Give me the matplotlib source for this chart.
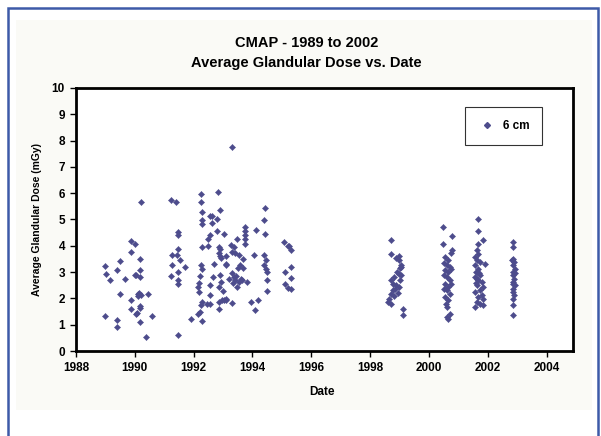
import matplotlib
matplotlib.use('Agg')
import matplotlib.pyplot as plt
from matplotlib.patches import Rectangle
from matplotlib.lines import Line2D

plt.rcParams["font.family"] = "Liberation Sans"
plt.rcParams["font.weight"] = "bold"

# survey sessions: (date, dose) per group
date_8990 = [1989.0, 1989.02, 1989.14, 1989.0, 1989.39, 1989.51, 1989.48, 1989.39, 1989.39, 1989.67,
             1989.88, 1989.99, 1989.88, 1990.18, 1990.18, 1989.99, 1990.05, 1990.18, 1990.1, 1990.2,
             1990.15, 1990.12, 1990.45, 1989.88, 1989.88, 1990.18, 1990.16, 1990.07, 1990.03, 1990.59,
             1990.16, 1990.39, 1990.22]
dose_8990 = [3.25, 2.94, 2.71, 1.32, 3.07, 3.41, 2.16, 1.17, 0.91, 2.75,
             4.17, 4.08, 3.76, 3.51, 3.09, 2.88, 2.9, 2.82, 2.18, 2.12,
             2.2, 2.1, 2.16, 1.93, 1.61, 1.7, 1.62, 1.45, 1.4, 1.32,
             1.12, 0.55, 5.65]

date_91 = [1991.23, 1991.41, 1991.46, 1991.46, 1991.46, 1991.27, 1991.44, 1991.53, 1991.27, 1991.72,
           1991.46, 1991.23, 1991.46, 1991.48, 1991.46, 1991.91]
dose_91 = [5.76, 5.67, 4.52, 4.4, 3.89, 3.64, 3.64, 3.47, 3.26, 3.19,
           3.0, 2.84, 2.69, 2.56, 0.6, 1.23]

date_9294 = [1992.25, 1992.82, 1992.25, 1992.28, 1992.89, 1992.55, 1992.63, 1992.78, 1992.3, 1992.3,
             1992.63, 1992.57, 1993.03, 1992.8, 1992.5, 1992.48, 1992.3, 1992.85, 1992.9, 1992.87,
             1992.9, 1992.93, 1993.09, 1992.25, 1992.28, 1992.22, 1992.18, 1992.15, 1992.18, 1992.57,
             1992.55, 1992.9, 1992.92, 1992.86, 1993.09, 1992.97, 1992.86, 1992.3, 1992.44, 1992.57,
             1992.26, 1992.2, 1992.15, 1992.86, 1992.3,
             1993.31, 1993.73, 1993.73, 1993.73, 1993.73, 1993.73, 1993.46, 1993.26, 1993.37, 1993.31,
             1993.42, 1993.54, 1993.69, 1993.09, 1993.09, 1993.56, 1993.67, 1993.5, 1993.31, 1993.37,
             1993.42, 1993.54, 1993.48, 1993.65, 1993.82, 1994.11, 1994.42, 1994.4, 1994.42, 1994.05,
             1994.4, 1994.46, 1994.4, 1994.46, 1994.51, 1994.51, 1994.48, 1993.03, 1993.09, 1993.31,
             1993.96, 1994.18, 1994.1, 1993.2, 1993.35, 1993.6, 1993.45, 1992.7, 1992.65, 1993.0]
dose_9294 = [5.96, 6.05, 5.67, 5.29, 5.38, 5.12, 5.12, 5.03, 4.97, 4.82,
             4.87, 4.42, 4.46, 4.55, 4.24, 3.98, 3.94, 3.96, 3.87, 3.72,
             3.63, 3.55, 3.3, 3.26, 3.13, 2.84, 2.59, 2.43, 2.24, 2.5,
             2.12, 2.88, 2.63, 2.43, 1.99, 1.93, 1.86, 1.87, 1.8, 1.8,
             1.74, 1.48, 1.42, 1.61, 1.14,
             7.76, 4.72, 4.56, 4.4, 4.24, 4.08, 4.27, 4.02, 3.94, 3.77,
             3.71, 3.64, 3.5, 3.6, 3.26, 3.26, 3.14, 3.14, 2.95, 2.82,
             2.69, 2.63, 2.45, 2.69, 2.63, 4.59, 5.45, 4.97, 4.44, 3.64,
             3.64, 3.45, 3.26, 3.13, 3.0, 2.69, 2.28, 1.93, 1.95, 1.83,
             1.87, 1.93, 1.57, 2.75, 2.6, 2.75, 2.85, 3.3, 2.8, 2.3]

date_95 = [1995.08, 1995.25, 1995.3, 1995.2, 1995.3, 1995.1, 1995.3, 1995.1, 1995.2, 1995.3]
dose_95 = [4.14, 4.0, 3.83, 3.99, 3.2, 3.0, 2.77, 2.56, 2.39, 2.36]

date_99 = [1998.72, 1998.72, 1998.89, 1999.0, 1999.05, 1999.01, 1998.97, 1998.83, 1998.72, 1998.78,
           1998.89, 1999.0, 1998.78, 1998.72, 1998.66, 1998.6, 1998.72, 1999.12, 1999.12, 1999.06,
           1999.02, 1998.9, 1998.85, 1998.95, 1998.8, 1999.05, 1999.0]
dose_99 = [4.21, 3.68, 3.55, 3.45, 3.26, 3.14, 2.94, 2.81, 2.69, 2.56,
           2.5, 2.43, 2.31, 2.18, 1.99, 1.86, 1.8, 1.61, 1.36, 3.2,
           2.69, 3.0, 2.35, 2.2, 2.1, 2.9, 3.6]

date_00 = [2000.48, 2000.77, 2000.48, 2000.77, 2000.74, 2000.55, 2000.66, 2000.6, 2000.71, 2000.55,
           2000.66, 2000.6, 2000.71, 2000.55, 2000.66, 2000.6, 2000.71, 2000.55, 2000.66, 2000.58,
           2000.6, 2000.71, 2000.6, 2000.66, 2000.5, 2000.75, 2000.5, 2000.75, 2000.52]
dose_00 = [4.72, 4.36, 4.08, 3.83, 3.71, 3.58, 3.45, 3.26, 3.2, 3.07,
           3.0, 2.81, 2.69, 2.56, 2.43, 2.31, 2.18, 2.05, 1.93, 1.8,
           1.67, 1.42, 1.29, 1.23, 2.9, 3.1, 2.35, 2.55, 3.35]

date_01 = [2001.68, 2001.68, 2001.85, 2001.68, 2001.62, 2001.68, 2001.56, 2001.62, 2001.73, 2001.9,
           2001.56, 2001.68, 2001.62, 2001.73, 2001.56, 2001.68, 2001.79, 2001.62, 2001.85, 2001.73,
           2001.56, 2001.79, 2001.68, 2001.85, 2001.62, 2001.73, 2001.56, 2001.85, 2001.6, 2001.7,
           2001.65, 2001.6]
dose_01 = [5.03, 4.57, 4.21, 4.08, 3.83, 3.7, 3.58, 3.45, 3.39, 3.32,
           3.26, 3.13, 3.01, 2.88, 2.82, 2.69, 2.63, 2.5, 2.43, 2.31,
           2.24, 2.12, 2.05, 1.99, 1.86, 1.8, 1.67, 1.74, 3.0, 2.95,
           2.75, 2.6]

date_02 = [2002.87, 2002.87, 2002.85, 2002.9, 2002.87, 2002.93, 2002.87, 2002.85, 2002.9, 2002.87,
           2002.93, 2002.87, 2002.85, 2002.9, 2002.87, 2002.85, 2002.87, 2002.82, 2002.92, 2002.85]
dose_02 = [4.15, 3.96, 3.51, 3.39, 3.26, 3.13, 3.0, 2.88, 2.75, 2.63,
           2.5, 2.37, 2.24, 2.12, 1.99, 1.74, 1.36, 3.45, 2.95, 2.55]

dates = date_8990 + date_91 + date_9294 + date_95 + date_99 + date_00 + date_01 + date_02
doses = dose_8990 + dose_91 + dose_9294 + dose_95 + dose_99 + dose_00 + dose_01 + dose_02

x_ticks = list(range(1988, 2005, 2))
y_ticks = list(range(0, 11))

mark_col = '#4D4C8C'

fig = plt.figure(figsize=(6.01, 4.36), dpi=100)
fig.patch.set_facecolor('white')

# blue frame and pale panel behind the chart
fig.patches.append(Rectangle((8/601, -0.05), 590/601, 1.05 - 8/436, transform=fig.transFigure,
                             fill=False, edgecolor='#3D5AA8', linewidth=1.8, zorder=-1))
fig.patches.append(Rectangle((16/601, 1 - 410/436), 576/601, 390/436, transform=fig.transFigure,
                             facecolor='#FAFAF6', edgecolor='none', zorder=-2))

ax = fig.add_axes([76/601, 1 - 351/436, 497/601, 263/436])
ax.set_zorder(1)
ax.set_facecolor('white')
ax.scatter(dates, doses, marker='D', s=10, color=mark_col, edgecolors=mark_col,
           linewidths=0.3, zorder=3)

ax.set_xlim(1988, 2004.9)
ax.set_ylim(0, 10)
ax.set_xticks(x_ticks)
ax.set_yticks(y_ticks)
ax.tick_params(direction='out', length=4, width=1, labelsize=8.5, pad=4)
for lab in ax.get_xticklabels() + ax.get_yticklabels():
    lab.set_fontweight('bold')
for sp in ax.spines.values():
    sp.set_linewidth(2)
    sp.set_color('black')

fig.text(0.51, 1 - 43/436, 'CMAP - 1989 to 2002', ha='center', va='center',
         fontsize=10.5, fontweight='bold')
fig.text(0.51, 1 - 63/436, 'Average Glandular Dose vs. Date', ha='center', va='center',
         fontsize=10.5, fontweight='bold')
fig.text(37/601, 1 - 219/436, 'Average Glandular Dose (mGy)', rotation=90, ha='center',
         va='center', fontsize=7.5, fontweight='bold')
fig.text(322/601, 1 - 392/436, 'Date', ha='center', va='center', fontsize=8.5, fontweight='bold')

handle = Line2D([], [], marker='D', linestyle='none', markersize=3, color=mark_col)
leg = ax.legend([handle], ['6 cm'], loc='upper left',
                bbox_to_anchor=((465 - 76) / 497, (351 - 107) / 263), borderaxespad=0,
                frameon=True, fancybox=False, handlelength=1.6, handletextpad=0.5,
                borderpad=1.1, prop={'size': 8.5, 'weight': 'bold'})
leg.get_frame().set_edgecolor('black')
leg.get_frame().set_linewidth(0.8)

fig.savefig('out.png', dpi=100)
